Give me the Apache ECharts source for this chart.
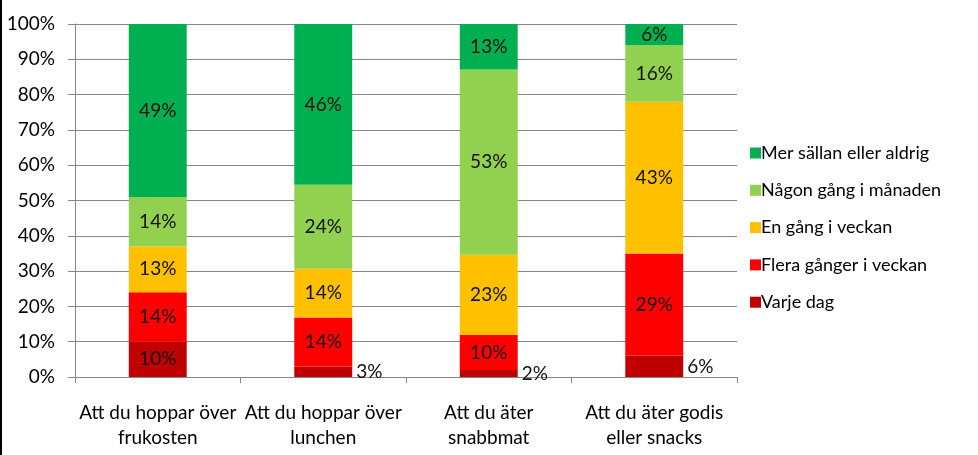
<!DOCTYPE html>
<html><head><meta charset="utf-8">
<script src="https://cdn.jsdelivr.net/npm/echarts@6/dist/echarts.min.js"></script>
<style>html,body{margin:0;padding:0;background:#fff}#c{width:978px;height:455px;box-sizing:border-box;border-left:2px solid #000}</style>
</head><body><div id="c"></div>
<script>
const categories = ['Att du hoppar över\nfrukosten', 'Att du hoppar över\nlunchen', 'Att du äter\nsnabbmat', 'Att du äter godis\neller snacks'];
const seriesNames = ['Varje dag', 'Flera gånger i veckan', 'En gång i veckan', 'Någon gång i månaden', 'Mer sällan eller aldrig'];
const varjeDag = [10, 3, 2, 6];
const fleraGanger = [14, 14, 10, 29];
const enGang = [13, 14, 23, 43];
const nagonGang = [14, 24, 53, 16];
const merSallan = [49, 46, 13, 6];
const yTicks = [0, 10, 20, 30, 40, 50, 60, 70, 80, 90, 100];
const colors = ['#C00000', '#FF0000', '#FFC000', '#92D050', '#00B050'];

const all = [varjeDag, fleraGanger, enGang, nagonGang, merSallan];
const totals = categories.map((_, i) => all.reduce((s, a) => s + a[i], 0));
const FONT = 'Lato, "Open Sans", sans-serif';

const series = all.map((vals, si) => ({
  name: seriesNames[si],
  type: 'bar',
  stack: 'total',
  barWidth: '35%',
  itemStyle: { color: colors[si] },
  label: { show: true, position: 'inside', color: '#111', fontSize: 19, fontFamily: FONT,
           formatter: p => vals[p.dataIndex] + '%' },
  data: vals.map((v, i) => {
    const d = { value: v / totals[i] * 100 };
    if (si === 0 && v < 8) d.label = { position: 'right', distance: 4 };
    return d;
  })
}));

const chart = echarts.init(document.getElementById('c'));
chart.setOption({
  animation: false,
  textStyle: { fontFamily: FONT },
  grid: { left: 73, right: 241, top: 24, bottom: 78, containLabel: false },
  legend: {
    orient: 'vertical', left: 743, top: 139,
    data: seriesNames.slice().reverse(),
    icon: 'rect', itemWidth: 11, itemHeight: 11, itemGap: 19.3,
    textStyle: { fontSize: 18, color: '#000', fontFamily: FONT, padding: [0, 0, 0, -5] }
  },
  xAxis: {
    type: 'category', data: categories,
    axisLine: { lineStyle: { color: '#868686' } },
    axisTick: { show: true, length: 6, lineStyle: { color: '#868686' } },
    axisLabel: { color: '#000', fontSize: 19, lineHeight: 25, margin: 23, interval: 0, fontFamily: FONT }
  },
  yAxis: {
    type: 'value', min: 0, max: 100, interval: 10,
    axisLine: { show: true, lineStyle: { color: '#868686' } },
    axisTick: { show: true, length: 7, lineStyle: { color: '#868686' } },
    splitLine: { lineStyle: { color: '#868686' } },
    axisLabel: { color: '#000', fontSize: 19, margin: 20, fontFamily: FONT,
      formatter: v => yTicks.includes(v) ? v + '%' : '' }
  },
  series
});
</script></body></html>
